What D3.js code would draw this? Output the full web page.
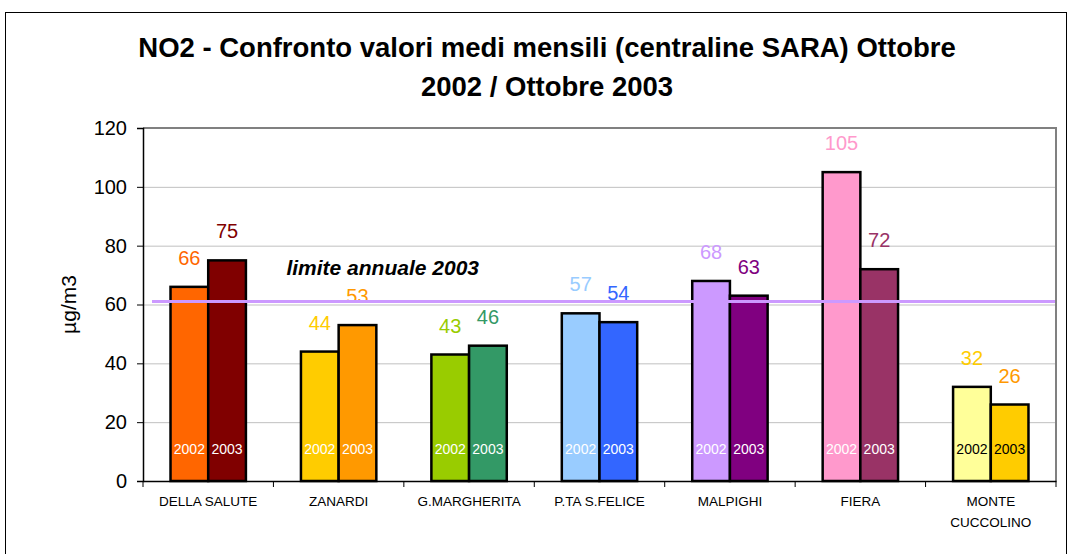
<!DOCTYPE html>
<html>
<head>
<meta charset="utf-8">
<script src="https://cdn.jsdelivr.net/npm/d3@7"></script>
<style>
  body { margin: 0; background: #fff; }
  svg { display: block; font-family: "Liberation Sans", Arial, sans-serif; }
</style>
</head>
<body>
<div id="chart"></div>
<script>
// stations and monthly means (October)
var stations = ["DELLA SALUTE", "ZANARDI", "G.MARGHERITA", "P.TA S.FELICE", "MALPIGHI", "FIERA", "MONTE CUCCOLINO"];
var years = ["2002", "2003"];
var values2002 = [66, 44, 43, 57, 68, 105, 32];
var values2003 = [75, 53, 46, 54, 63, 72, 26];
var limitValue = 61;
var yTicks = [0, 20, 40, 60, 80, 100, 120];

// bar colours per station, per year
var fill2002 = ["#FF6600", "#FFCC00", "#99CC00", "#99CCFF", "#CC99FF", "#FF99CC", "#FFFF99"];
var fill2003 = ["#800000", "#FF9900", "#339966", "#3366FF", "#800080", "#993366", "#FFCC00"];
var label2002 = ["#FF6600", "#FFCC00", "#99CC00", "#99CCFF", "#CC99FF", "#FF99CC", "#FFCC00"];
var label2003 = ["#800000", "#FF9900", "#339966", "#3366FF", "#800080", "#993366", "#FF9900"];
var yearText = ["#fff", "#fff", "#fff", "#fff", "#fff", "#fff", "#000"];

var W = 1072, H = 554;
var margin = {top: 128, right: 16, bottom: 73, left: 143};
var width = W - margin.left - margin.right;
var height = H - margin.top - margin.bottom;

var svg = d3.select("#chart").append("svg")
    .attr("width", W)
    .attr("height", H);

// outer chart frame
svg.append("rect")
    .attr("x", 5.5).attr("y", 12.5)
    .attr("width", 1061).attr("height", 560)
    .attr("fill", "none")
    .attr("stroke", "#000")
    .attr("stroke-width", 1);

// title
var title = svg.append("text")
    .attr("text-anchor", "middle")
    .style("font-weight", "bold")
    .style("font-size", "27.5px");
title.append("tspan").attr("x", 547).attr("y", 57).text("NO2 - Confronto valori medi mensili (centraline SARA) Ottobre");
title.append("tspan").attr("x", 547).attr("y", 96).text("2002 / Ottobre 2003");

var g = svg.append("g")
    .attr("transform", "translate(" + margin.left + "," + margin.top + ")");

var x0 = d3.scaleBand()
    .domain(stations)
    .range([0, width]);

var x1 = d3.scaleBand()
    .domain(years)
    .range([0, x0.bandwidth()])
    .paddingInner(0)
    .paddingOuter(0.73);

var y = d3.scaleLinear()
    .domain([0, 120])
    .range([height, 0]);

// grid
g.selectAll(".grid")
    .data(yTicks.slice(1, -1))
    .enter().append("line")
    .attr("x1", 0).attr("x2", width)
    .attr("y1", function(d) { return y(d) + 0.5; })
    .attr("y2", function(d) { return y(d) + 0.5; })
    .attr("stroke", "#C0C0C0")
    .attr("stroke-width", 1);

// plot frame top + right (gray)
g.append("path")
    .attr("d", "M0," + y(120) + "H" + width + "V" + height)
    .attr("fill", "none")
    .attr("stroke", "#808080")
    .attr("stroke-width", 2);

// y axis
var yAxis = g.append("g")
    .call(d3.axisLeft(y).tickValues(yTicks).tickSize(6).tickPadding(10));
yAxis.select(".domain").attr("stroke", "#000").attr("stroke-width", 1.5);
yAxis.selectAll(".tick line").attr("stroke", "#000");
yAxis.selectAll("text")
    .style("font-size", "20px")
    .style("font-family", "Liberation Sans, Arial, sans-serif")
    .attr("fill", "#000");

// y axis title
svg.append("text")
    .attr("transform", "translate(76," + (margin.top + y(60)) + ") rotate(-90)")
    .attr("text-anchor", "middle")
    .style("font-size", "21px")
    .text("µg/m3");

// bars
var rows = stations.map(function(s, i) {
    return {station: s, i: i, vals: [
        {year: "2002", v: values2002[i], fill: fill2002[i], lab: label2002[i]},
        {year: "2003", v: values2003[i], fill: fill2003[i], lab: label2003[i]}
    ]};
});

var groups = g.selectAll(".station")
    .data(rows)
    .enter().append("g")
    .attr("transform", function(d) { return "translate(" + x0(d.station) + ",0)"; });

groups.selectAll("rect")
    .data(function(d) { return d.vals; })
    .enter().append("rect")
    .attr("x", function(d) { return x1(d.year); })
    .attr("y", function(d) { return y(d.v); })
    .attr("width", x1.bandwidth())
    .attr("height", function(d) { return height - y(d.v); })
    .attr("fill", function(d) { return d.fill; })
    .attr("stroke", "#000")
    .attr("stroke-width", 2.5);

// value labels
groups.selectAll(".val")
    .data(function(d) { return d.vals; })
    .enter().append("text")
    .attr("x", function(d) { return x1(d.year) + x1.bandwidth() / 2; })
    .attr("y", function(d) { return y(d.v) - 22; })
    .attr("text-anchor", "middle")
    .style("font-size", "20px")
    .attr("fill", function(d) { return d.lab; })
    .text(function(d) { return d.v; });

// year labels inside bars
groups.each(function(d) {
    d3.select(this).selectAll(".yr")
        .data(d.vals)
        .enter().append("text")
        .attr("x", function(v) { return x1(v.year) + x1.bandwidth() / 2; })
        .attr("y", height - 27)
        .attr("text-anchor", "middle")
        .style("font-size", "14px")
        .attr("fill", yearText[d.i])
        .text(function(v) { return v.year; });
});

// limit line
g.append("line")
    .attr("x1", 9).attr("x2", width - 1)
    .attr("y1", y(limitValue)).attr("y2", y(limitValue))
    .attr("stroke", "#CC99FF")
    .attr("stroke-width", 3);

g.append("text")
    .attr("x", x0(stations[1]) + 13)
    .attr("y", y(limitValue) - 27)
    .style("font-size", "21px")
    .style("font-weight", "bold")
    .style("font-style", "italic")
    .text("limite annuale 2003");

// x axis
var xAxis = g.append("g")
    .attr("transform", "translate(0," + height + ")")
    .call(d3.axisBottom(x0).tickSize(0).tickPadding(15));
xAxis.select(".domain").attr("stroke", "#000").attr("stroke-width", 1.5);
xAxis.selectAll("text")
    .style("font-size", "13.5px")
    .style("font-family", "Liberation Sans, Arial, sans-serif")
    .attr("fill", "#000")
    .each(function(d) {
        var t = d3.select(this);
        if (d === "MONTE CUCCOLINO") {
            t.text(null);
            t.append("tspan").attr("x", 0).attr("dy", "0.71em").text("MONTE");
            t.append("tspan").attr("x", 0).attr("dy", "1.55em").text("CUCCOLINO");
        }
    });

// category separator ticks
g.selectAll(".sep")
    .data(d3.range(stations.length + 1))
    .enter().append("line")
    .attr("x1", function(i) { return i * x0.step(); })
    .attr("x2", function(i) { return i * x0.step(); })
    .attr("y1", height).attr("y2", height + 6)
    .attr("stroke", "#000");
</script>
</body>
</html>
